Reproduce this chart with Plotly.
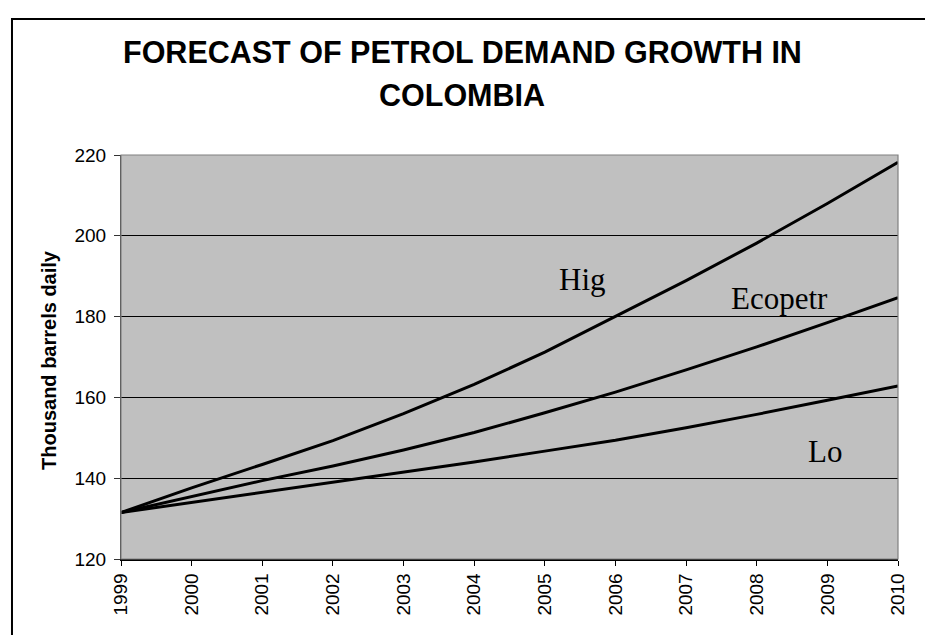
import plotly.graph_objects as go

# Forecast horizon
years = [1999, 2000, 2001, 2002, 2003, 2004, 2005, 2006, 2007, 2008, 2009, 2010]

# Thousand barrels daily, per scenario
high_case = [131.5, 137.6, 143.4, 149.3, 156.0, 163.2, 171.2, 180.0, 188.9, 198.2, 208.0, 218.2]
ecopetrol_case = [131.5, 135.4, 139.4, 143.0, 147.0, 151.3, 156.2, 161.3, 166.8, 172.5, 178.5, 184.7]
low_case = [131.5, 134.0, 136.4, 138.9, 141.5, 144.0, 146.7, 149.4, 152.5, 155.8, 159.3, 162.8]

y_ticks = [120, 140, 160, 180, 200, 220]

# Curve labels: text, x (year), y (value)
curve_labels = [("Hig", 2005.53, 189.2), ("Ecopetr", 2008.32, 184.5), ("Lo", 2008.97, 146.6)]

title_lines = ["FORECAST OF PETROL DEMAND GROWTH IN", "COLOMBIA"]
y_title = "Thousand barrels daily"

SANS = "Liberation Sans, Arial, sans-serif"
SERIF = "Liberation Serif, Times New Roman, serif"

fig = go.Figure()
for series in (high_case, ecopetrol_case, low_case):
    fig.add_trace(go.Scatter(
        x=years, y=series, mode="lines",
        line=dict(color="black", width=3),
        showlegend=False, hoverinfo="skip",
    ))

annotations = []
for text, x, y in curve_labels:
    annotations.append(dict(
        text=text, x=x, y=y, xref="x", yref="y",
        xanchor="center", yanchor="middle", showarrow=False,
        font=dict(family=SERIF, size=31, color="black"),
    ))

# Two-line chart title
for text, y in zip(title_lines, [1.2557, 1.1485]):
    annotations.append(dict(
        text=f"<b>{text}</b>", x=0.4389, y=y, xref="paper", yref="paper",
        xanchor="center", yanchor="middle", showarrow=False,
        font=dict(family=SANS, size=30.5, color="black"),
    ))

# Vertical axis title
annotations.append(dict(
    text=f"<b>{y_title}</b>", x=-0.0927, y=0.4926, xref="paper", yref="paper",
    xanchor="center", yanchor="middle", showarrow=False, textangle=-90,
    font=dict(family=SANS, size=20, color="black"),
))

shapes = [
    # plot-area frame
    dict(type="rect", xref="paper", yref="paper", x0=0, x1=1, y0=0, y1=1,
         line=dict(color="#808080", width=1.2), layer="above"),
    # outer chart border (only left and top edges fall inside the page)
    dict(type="rect", xref="paper", yref="paper", x0=-0.1403, x1=1.05, y0=-0.2, y1=1.3366,
         line=dict(color="black", width=2)),
]

fig.update_layout(
    width=925, height=635,
    margin=dict(l=121, r=27, t=155, b=76),
    paper_bgcolor="white", plot_bgcolor="#C0C0C0",
    annotations=annotations, shapes=shapes,
    font=dict(family=SANS, color="black"),
)

fig.update_xaxes(
    range=[1999, 2010], tickmode="array", tickvals=years,
    ticktext=[str(y) for y in years], tickangle=-90,
    tickfont=dict(family=SANS, size=19, color="black"),
    ticks="outside", ticklen=5, tickcolor="black", tickwidth=1,
    showline=True, linecolor="black", linewidth=1.5,
    showgrid=False, zeroline=False, fixedrange=True,
)
fig.update_yaxes(
    range=[120, 220], tickmode="array", tickvals=y_ticks,
    tickfont=dict(family=SANS, size=19, color="black"),
    ticks="outside", ticklen=6, tickcolor="#333333", tickwidth=1,
    showline=True, linecolor="#333333", linewidth=1.2,
    showgrid=True, gridcolor="black", gridwidth=1,
    zeroline=False, fixedrange=True, ticklabelstandoff=4,
)

fig.write_html("out.html")
